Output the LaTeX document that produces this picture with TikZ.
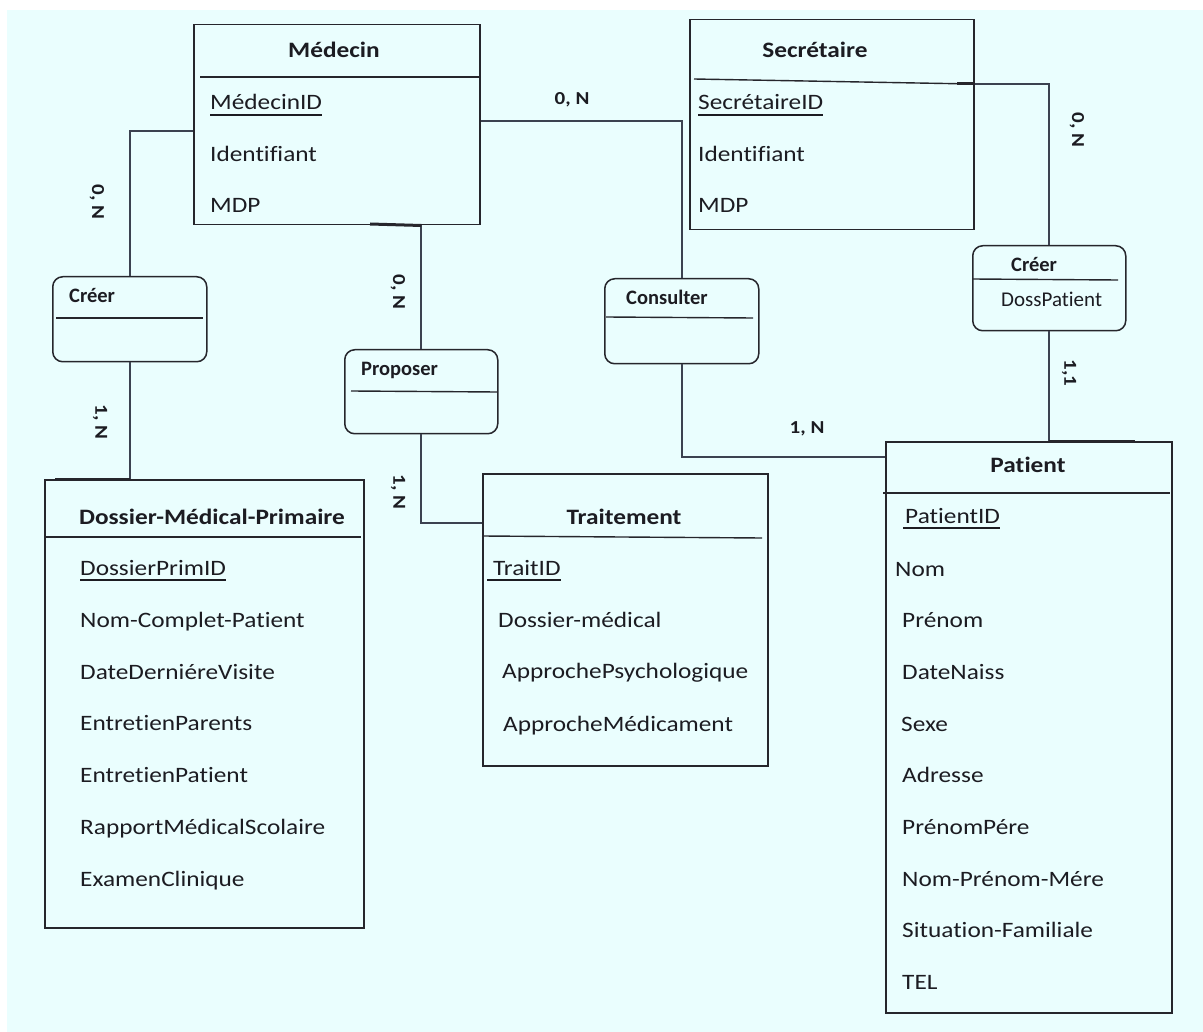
\documentclass[tikz,border=0pt]{standalone}
\usepackage{fontspec}
\setmainfont{Carlito}[FakeStretch=1.15,Ligatures=NoCommon]
\newfontfamily\relfont{Carlito}[Ligatures=NoCommon]
\definecolor{bgc}{RGB}{234,254,254}
\definecolor{ink}{RGB}{28,28,34}
\definecolor{lnc}{RGB}{38,38,44}
\definecolor{cnc}{RGB}{60,66,80}
\begin{document}
\begin{tikzpicture}[x=1pt,y=-1pt,
  attr/.style={anchor=base west, inner sep=0pt, text=ink, font=\fontsize{22}{26}\selectfont},
  ttl/.style={anchor=base, inner sep=0pt, text=ink, font=\fontsize{22}{26}\selectfont\bfseries},
  rel/.style={anchor=base west, inner sep=0pt, text=ink, font=\relfont\fontsize{20.5}{24}\selectfont\bfseries},
  relattr/.style={anchor=base west, inner sep=0pt, text=ink, font=\relfont\fontsize{21}{24}\selectfont},
  card/.style={inner sep=0pt, text=ink, font=\fontsize{18.3}{21}\selectfont\bfseries},
  entity/.style={draw=lnc, line width=1.5pt, anchor=north west, inner sep=0pt},
  relbox/.style={entity, rounded corners=10pt},
  sepline/.style={draw=lnc, line width=1.4pt},
  conn/.style={draw=cnc, line width=1.6pt},
  thick seg/.style={draw=lnc, line width=3pt},
  uline/.style={draw=ink, line width=1.1pt}]
\useasboundingbox (0,0) rectangle (1203,1032);
\fill[white] (0,0) rectangle (1203,1032);
\fill[bgc] (7,10) rectangle (1203,1032);

% ---------- Entities ----------
\node[entity, minimum width=286pt, minimum height=200pt] (med) at (193,24) {};
\node[entity, minimum width=284pt, minimum height=210pt] (sec) at (689,19) {};
\node[entity, minimum width=319pt, minimum height=448pt] (dos) at (44,479) {};
\node[entity, minimum width=285pt, minimum height=292pt] (trt) at (482,473) {};
\node[entity, minimum width=286pt, minimum height=571pt] (pat) at (885,441) {};

% ---------- Relations ----------
\node[relbox, minimum width=154pt, minimum height=85pt] (cre1) at (52,276) {};
\node[relbox, minimum width=153pt, minimum height=84pt] (prop) at (344,349) {};
\node[relbox, minimum width=154pt, minimum height=85pt] (cons) at (604,278) {};
\node[relbox, minimum width=153pt, minimum height=85pt] (cre2) at (972,245) {};

% ---------- Médecin ----------
\node[ttl] (medT) at (334,58) {Médecin};
\draw[sepline] (200,77) -- (479,77);
\node[attr] (medA1) at (210,110) {MédecinID};
\draw[uline] ([yshift=-5pt]medA1.base west) -- ([yshift=-5pt]medA1.base east);
\node[attr] (medA2) at (210,162) {Identifiant};
\node[attr] (medA3) at (210,213) {MDP};

% ---------- Secrétaire ----------
\node[ttl] (secT) at (815,58) {Secrétaire};
\draw[sepline] (694,79) -- (973,84);
\node[attr] (secA1) at (698,110) {SecrétaireID};
\draw[uline] ([yshift=-5pt]secA1.base west) -- ([yshift=-5pt]secA1.base east);
\node[attr] (secA2) at (698,162) {Identifiant};
\node[attr] (secA3) at (698,213) {MDP};

% ---------- Dossier-Médical-Primaire ----------
\node[ttl] (dosT) at (212,524) {Dossier-Médical-Primaire};
\draw[sepline] (44,537) -- (361,537);
\node[attr] (dosA1) at (80,575) {DossierPrimID};
\draw[uline] ([yshift=-5pt]dosA1.base west) -- ([yshift=-5pt]dosA1.base east);
\node[attr] (dosA2) at (80,627) {Nom-Complet-Patient};
\node[attr] (dosA3) at (80,679) {DateDerniéreVisite};
\node[attr] (dosA4) at (80,730) {EntretienParents};
\node[attr] (dosA5) at (80,782) {EntretienPatient};
\node[attr] (dosA6) at (80,834) {RapportMédicalScolaire};
\node[attr] (dosA7) at (80,886) {ExamenClinique};

% ---------- Traitement ----------
\node[ttl] (trtT) at (624,524) {Traitement};
\draw[sepline] (482,536) -- (762,538);
\node[attr] (trtA1) at (493,575) {TraitID};
\draw[uline] ([yshift=-5pt,xshift=-6pt]trtA1.base west) -- ([yshift=-5pt]trtA1.base east);
\node[attr] (trtA2) at (498,627) {Dossier-médical};
\node[attr] (trtA3) at (502,678) {ApprochePsychologique};
\node[attr] (trtA4) at (503,731) {ApprocheMédicament};

% ---------- Patient ----------
\node[ttl] (patT) at (1028,472) {Patient};
\draw[sepline] (883,493) -- (1170,493);
\node[attr] (patA1) at (905,523) {PatientID};
\draw[uline] ([yshift=-5pt,xshift=-2pt]patA1.base west) -- ([yshift=-5pt]patA1.base east);
\node[attr] (patA2) at (895,576) {Nom};
\node[attr] (patA3) at (902,627) {Prénom};
\node[attr] (patA4) at (902,679) {DateNaiss};
\node[attr] (patA5) at (901,731) {Sexe};
\node[attr] (patA6) at (902,782) {Adresse};
\node[attr] (patA7) at (902,834) {PrénomPére};
\node[attr] (patA8) at (902,886) {Nom-Prénom-Mére};
\node[attr] (patA9) at (902,937) {Situation-Familiale};
\node[attr] (patA10) at (902,989) {TEL};

% ---------- Relation labels ----------
\node[rel] (cre1T) at (69,303) {Créer};
\draw[sepline] (56,318) -- (203,318);
\node[rel] (propT) at (361,376) {Proposer};
\draw[sepline] (351,391) -- (497,392);
\node[rel] (consT) at (626,305) {Consulter};
\draw[sepline] (606,317) -- (753,318);
\node[rel] (cre2T) at (1011,272) {Créer};
\draw[sepline] (972,279) -- (1118,280);
\node[relattr] (cre2A) at (1001,307) {DossPatient};

% ---------- Connectors ----------
\draw[conn] (med.west |- 0,131) -| (cre1.north);
\draw[conn] (cre1.south) -- (cre1.south |- dos.north);
\draw[conn] (prop.north) -- (prop.north |- med.south);
\draw[conn] (prop.south) |- (trt.west |- 0,523);
\draw[conn] (med.east |- 0,121) -| (cons.north);
\draw[conn] (cons.south) |- (pat.west |- 0,457);
\draw[conn] (sec.east |- 0,84) -| (cre2.north);
\draw[conn] (cre2.south) -- (cre2.south |- pat.north);

% thick joins
\draw[thick seg] (370,224) -- (prop.north |- med.south);
\draw[thick seg] (55,479) -- (cre1.south |- dos.north);
\draw[thick seg] (cre2.south |- pat.north) -- (1135,441);
\draw[thick seg] (957,84) -- (sec.east |- 0,84);

% ---------- Cardinalities ----------
\node[card] (c1) at (572,100) {0, N};
\node[card, rotate=-90] (c2) at (97,202) {0, N};
\node[card, rotate=-90] (c3) at (100,422) {1, N};
\node[card, rotate=-90] (c4) at (398,292) {0, N};
\node[card, rotate=-90] (c5) at (398,492) {1, N};
\node[card, rotate=-90] (c6) at (1077,130) {0, N};
\node[card, rotate=-90] (c7) at (1069,373) {1,1};
\node[card] (c8) at (807,429) {1, N};
\end{tikzpicture}
\end{document}
